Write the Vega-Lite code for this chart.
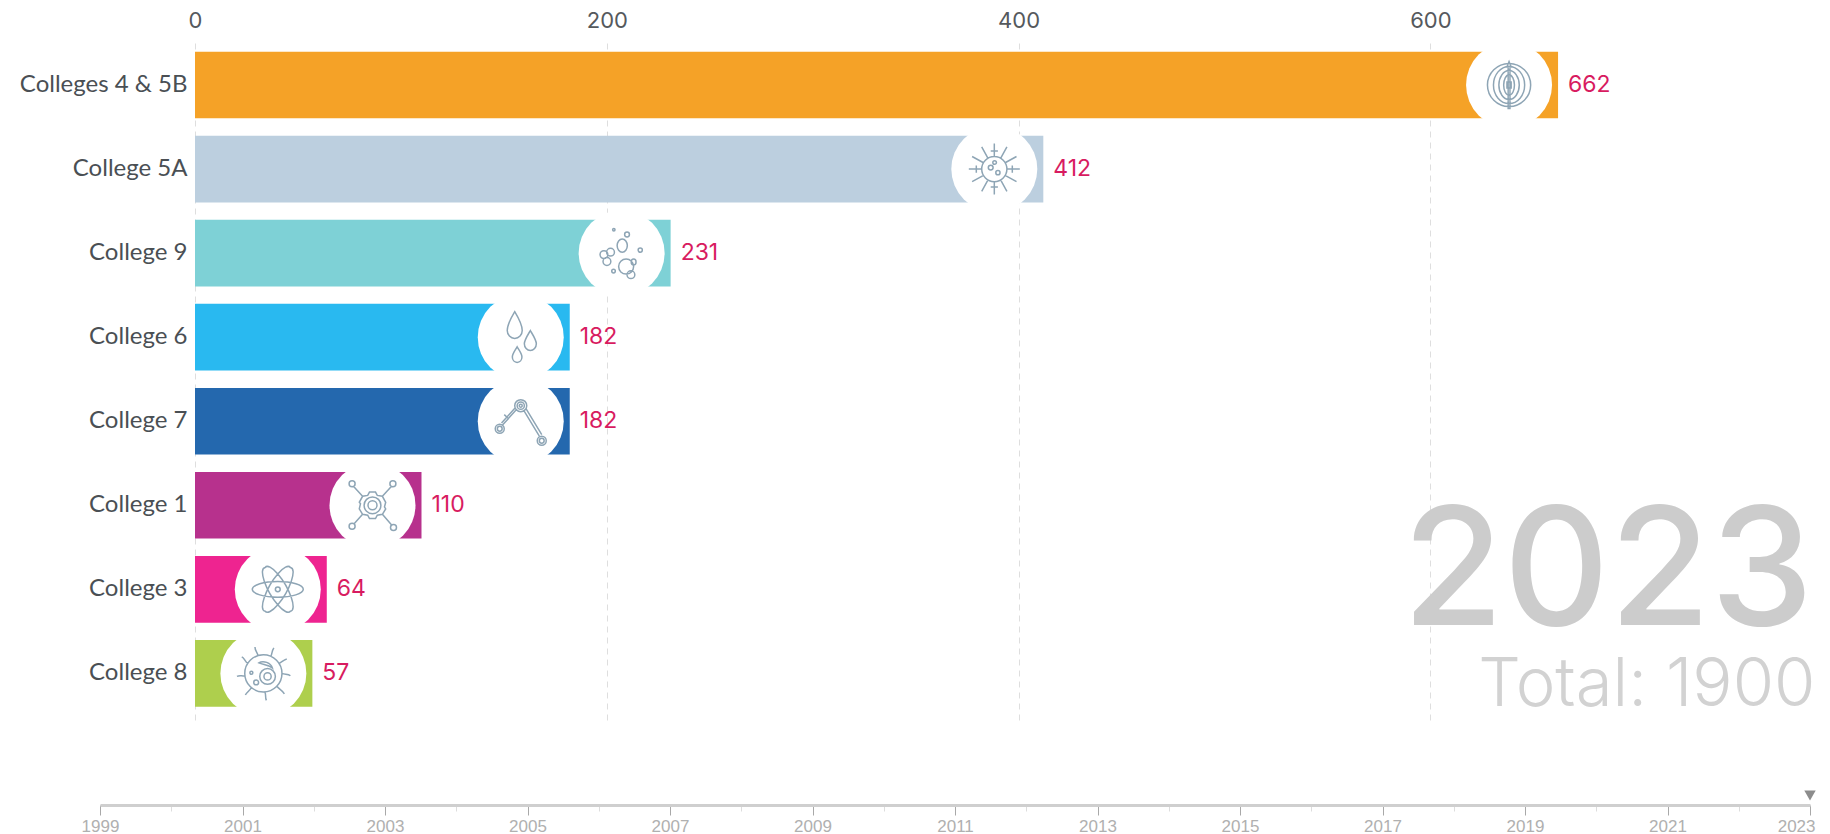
{
  "$schema": "https://vega.github.io/schema/vega-lite/v6.json",
  "padding": {"left": 19, "top": 9, "right": 5, "bottom": 0},
  "background": "white",
  "config": {"view": {"stroke": null}},
  "datasets": {
    "colleges": [
      {"college": "Colleges 4 & 5B", "count": 662},
      {"college": "College 5A", "count": 412},
      {"college": "College 9", "count": 231},
      {"college": "College 6", "count": 182},
      {"college": "College 7", "count": 182},
      {"college": "College 1", "count": 110},
      {"college": "College 3", "count": 64},
      {"college": "College 8", "count": 57}
    ],
    "yearLabel": [{"college": "College 3", "label": "2023", "count": 786}],
    "totalLabel": [{"college": "College 8", "label": "Total: 1900", "count": 787}],
    "current": [{"year": 2023}]
  },
  "vconcat": [
    {
      "width": 1710,
      "height": 680,
      "data": {"name": "colleges"},
      "encoding": {
        "y": {
          "field": "college",
          "type": "nominal",
          "sort": null,
          "scale": {
            "domain": ["Colleges 4 & 5B", "College 5A", "College 9", "College 6", "College 7", "College 1", "College 3", "College 8"],
            "paddingInner": 0.207,
            "paddingOuter": 0.1485,
            "align": 0.348
          },
          "axis": {
            "title": null,
            "orient": "left",
            "offset": -95,
            "domain": false,
            "ticks": false,
            "labelPadding": 8,
            "labelFont": "Lato",
            "labelFontSize": 24,
            "labelColor": "#4a4f54",
            "labelLimit": 300
          }
        },
        "x": {
          "field": "count",
          "type": "quantitative",
          "scale": {"domain": [-46.14, 784.36], "nice": false, "zero": false},
          "axis": {
            "title": null,
            "orient": "top",
            "values": [0, 200, 400, 600],
            "format": "d",
            "domain": false,
            "ticks": false,
            "labelPadding": 11,
            "labelFont": "Inter",
            "labelFontSize": 22,
            "labelColor": "#55595d",
            "grid": true,
            "gridColor": "#dedede",
            "gridDash": [6, 5],
            "gridWidth": 1
          }
        }
      },
      "layer": [
        {
          "mark": {"type": "bar"},
          "encoding": {
            "x2": {"datum": 0},
            "color": {
              "field": "college",
              "type": "nominal",
              "legend": null,
              "scale": {
                "domain": ["Colleges 4 & 5B", "College 5A", "College 9", "College 6", "College 7", "College 1", "College 3", "College 8"],
                "range": ["#F5A227", "#BCCFDF", "#7ED1D6", "#29B9F0", "#2468AE", "#B7318D", "#EE2490", "#AECF4D"]
              }
            }
          }
        },
        {
          "mark": {"type": "point", "shape": "circle", "filled": true, "fill": "white", "stroke": null, "size": 7396, "xOffset": -49, "opacity": 1}
        },
        {
          "mark": {"type": "point", "filled": false, "stroke": "#8ea5b5", "strokeWidth": 1.5, "size": 3600, "xOffset": -49, "opacity": 1},
          "encoding": {
            "shape": {
              "field": "college",
              "type": "nominal",
              "legend": null,
              "scale": {
                "domain": ["Colleges 4 & 5B", "College 5A", "College 9", "College 6", "College 7", "College 1", "College 3", "College 8"],
                "range": [
                  "M-.07 -.6L0 -.78L.07 -.6L.03 -.6L.03 .78L-.03 .78L-.03 -.6ZM-.07 -.1h.14v.2h-.14ZM-.18 0a.18 .34 0 1 0 .36 0a.18 .34 0 1 0 -.36 0ZM-.34 0a.34 .48 0 1 0 .68 0a.34 .48 0 1 0 -.68 0ZM-.52 0a.52 .62 0 1 0 1.04 0a.52 .62 0 1 0 -1.04 0ZM-.72 0a.72 .72 0 1 0 1.44 0a.72 .72 0 1 0 -1.44 0Z",
                  "M-.42 0a.42 .42 0 1 0 .84 0a.42 .42 0 1 0 -.84 0ZM-.2 -.05a.08 .08 0 1 0 .16 0a.08 .08 0 1 0 -.16 0ZM.05 .12a.07 .07 0 1 0 .14 0a.07 .07 0 1 0 -.14 0ZM-.05 -.22a.06 .06 0 1 0 .12 0a.06 .06 0 1 0 -.12 0ZM.42 0L.85 0M.36 .21L.74 .42M.21 .36L.42 .74M0 .42L0 .85M-.21 .36L-.42 .74M-.36 .21L-.74 .42M-.42 0L-.85 0M-.36 -.21L-.74 -.42M-.21 -.36L-.42 -.74M0 -.42L0 -.85M.21 -.36L.42 -.74M.36 -.21L.74 -.42M.6 -.12L.6 .12M-.6 -.12L-.6 .12M-.12 .6L.12 .6M-.12 -.6L.12 -.6",
                  "M-.15 -.25a.17 .22 0 1 0 .34 0a.17 .22 0 1 0 -.34 0ZM-.1 .45a.25 .25 0 1 0 .5 0a.25 .25 0 1 0 -.5 0ZM-.72 .05a.13 .13 0 1 0 .26 0a.13 .13 0 1 0 -.26 0ZM-.62 .28a.13 .13 0 1 0 .26 0a.13 .13 0 1 0 -.26 0ZM-.5 -.03a.13 .13 0 1 0 .26 0a.13 .13 0 1 0 -.26 0ZM.32 .3a.08 .1 0 1 0 .16 0a.08 .1 0 1 0 -.16 0ZM.18 .72a.13 .13 0 1 0 .26 0a.13 .13 0 1 0 -.26 0ZM.1 -.62a.08 .08 0 1 0 .16 0a.08 .08 0 1 0 -.16 0ZM.55 -.1a.07 .07 0 1 0 .14 0a.07 .07 0 1 0 -.14 0ZM-.33 .6a.06 .06 0 1 0 .12 0a.06 .06 0 1 0 -.12 0ZM-.3 -.78a.04 .04 0 1 0 .08 0a.04 .04 0 1 0 -.08 0Z",
                  "M-.2 -.85C-.05 -.6 .05 -.4 .05 -.22C.05 -.08 -.06 .04 -.2 .04C-.34 .04 -.45 -.08 -.45 -.22C-.45 -.4 -.35 -.6 -.2 -.85ZM.32 -.22C.42 -.05 .52 .1 .52 .22C.52 .34 .43 .44 .32 .44C.21 .44 .12 .34 .12 .22C.12 .1 .22 -.05 .32 -.22ZM-.12 .32C-.05 .45 .04 .55 .04 .66C.04 .76 -.03 .84 -.12 .84C-.21 .84 -.28 .76 -.28 .66C-.28 .55 -.19 .45 -.12 .32Z",
                  "M-.2 -.52a.2 .2 0 1 0 .4 0a.2 .2 0 1 0 -.4 0ZM-.12 -.52a.12 .12 0 1 0 .24 0a.12 .12 0 1 0 -.24 0ZM-.05 -.52a.05 .05 0 1 0 .1 0a.05 .05 0 1 0 -.1 0ZM-.85 .25a.15 .15 0 1 0 .3 0a.15 .15 0 1 0 -.3 0ZM-.78 .25a.08 .08 0 1 0 .16 0a.08 .08 0 1 0 -.16 0ZM.55 .65a.15 .15 0 1 0 .3 0a.15 .15 0 1 0 -.3 0ZM.62 .65a.08 .08 0 1 0 .16 0a.08 .08 0 1 0 -.16 0ZM-.6 .12L-.15 -.38M-.64 .06L-.19 -.44M.1 -.36L.62 .5M.18 -.41L.7 .45M-.55 -.22L-.42 -.1",
                  "M-.15 0a.15 .15 0 1 0 .3 0a.15 .15 0 1 0 -.3 0ZM-.28 0a.28 .28 0 1 0 .56 0a.28 .28 0 1 0 -.56 0ZM-.1 -.44L.1 -.44L.16 -.33L.33 -.3L.44 -.1L.4 .05L.44 .12L.33 .3L.16 .33L.1 .44L-.1 .44L-.16 .33L-.33 .3L-.44 .12L-.4 -.05L-.44 -.1L-.33 -.3L-.16 -.33ZM-.33 -.3L-.62 -.62M.33 -.3L.62 -.62M-.33 .3L-.62 .62M.33 .3L.66 .68M-.78 -.72a.1 .1 0 1 0 .2 0a.1 .1 0 1 0 -.2 0ZM.58 -.72a.1 .1 0 1 0 .2 0a.1 .1 0 1 0 -.2 0ZM-.78 .7a.1 .1 0 1 0 .2 0a.1 .1 0 1 0 -.2 0ZM.6 .74a.1 .1 0 1 0 .2 0a.1 .1 0 1 0 -.2 0Z",
                  "M-.85 0a.85 .26 0 1 0 1.7 0a.85 .26 0 1 0 -1.7 0ZM-.42 -.73a.85 .26 60 1 0 .84 1.46a.85 .26 60 1 0 -.84 -1.46ZM.42 -.73a.85 .26 120 1 0 -.84 1.46a.85 .26 120 1 0 .84 -1.46ZM-.08 0a.08 .08 0 1 0 .16 0a.08 .08 0 1 0 -.16 0Z",
                  "M-.62 0a.62 .62 0 1 0 1.24 0a.62 .62 0 1 0 -1.24 0ZM-.12 .1a.26 .26 0 1 0 .52 0a.26 .26 0 1 0 -.52 0ZM.02 .1a.12 .12 0 1 0 .24 0a.12 .12 0 1 0 -.24 0ZM-.32 .3a.08 .08 0 1 0 .16 0a.08 .08 0 1 0 -.16 0ZM-.45 -.02a.05 .05 0 1 0 .1 0a.05 .05 0 1 0 -.1 0ZM-.15 -.35C0 -.45 .25 -.35 .3 -.18C.15 -.3 0 -.28 -.15 -.35ZM.62 0C.72 .05 .82 0 .9 .08M.45 .43C.55 .55 .62 .55 .7 .68M.05 .62C.1 .72 .05 .8 .1 .9M-.4 .47C-.45 .58 -.55 .62 -.6 .72M-.62 .08C-.72 .1 -.78 .05 -.88 .1M-.52 -.33C-.62 -.4 -.62 -.5 -.72 -.55M-.18 -.6C-.2 -.7 -.28 -.75 -.28 -.88M.25 -.57C.3 -.68 .28 -.75 .35 -.85M.52 -.33C.62 -.38 .68 -.45 .78 -.48"
                ]
              }
            }
          }
        },
        {
          "mark": {"type": "text", "align": "left", "baseline": "middle", "dx": 10, "font": "Inter", "fontSize": 23, "color": "#d81b60"},
          "encoding": {"text": {"field": "count", "type": "quantitative", "format": "d"}}
        },
        {
          "data": {"name": "yearLabel"},
          "mark": {"type": "text", "align": "right", "baseline": "alphabetic", "dy": 36, "font": "Inter", "fontWeight": 500, "fontSize": 164, "color": "#cccccc"},
          "encoding": {"text": {"field": "label", "type": "nominal"}}
        },
        {
          "data": {"name": "totalLabel"},
          "mark": {"type": "text", "align": "right", "baseline": "alphabetic", "dy": 33, "font": "Inter", "fontWeight": 300, "fontSize": 67, "color": "#d2d2d2"},
          "encoding": {"text": {"field": "label", "type": "nominal"}}
        }
      ]
    },
    {
      "width": 1710,
      "height": 1,
      "data": {"name": "current"},
      "encoding": {
        "x": {
          "field": "year",
          "type": "quantitative",
          "scale": {"domain": [1999, 2023], "nice": false, "zero": false},
          "axis": {
            "title": null,
            "orient": "bottom",
            "values": [1999, 2000, 2001, 2002, 2003, 2004, 2005, 2006, 2007, 2008, 2009, 2010, 2011, 2012, 2013, 2014, 2015, 2016, 2017, 2018, 2019, 2020, 2021, 2022, 2023],
            "format": "d",
            "labelExpr": "datum.value % 2 == 1 ? datum.label : ''",
            "labelOverlap": false,
            "labelFlush": false,
            "labelBound": false,
            "labelAlign": {"condition": {"test": "datum.value == 2023", "value": "right"}, "value": "center"},
            "labelOffset": {"condition": {"test": "datum.value == 2023", "value": 5}, "value": 0},
            "labelFont": "Liberation Sans",
            "labelFontSize": 17,
            "labelColor": "#b0b0b0",
            "labelPadding": 3,
            "domainColor": "#cfcfcf",
            "domainWidth": 3,
            "tickColor": {"condition": {"test": "datum.value % 2 == 1", "value": "#a8a8a8"}, "value": "#dddddd"},
            "tickSize": {"condition": {"test": "datum.value % 2 == 1", "value": 10}, "value": 6},
            "grid": false
          }
        }
      },
      "layer": [
        {
          "mark": {"type": "point", "shape": "triangle-down", "filled": true, "color": "#8c8c8c", "size": 130, "yOffset": -9, "opacity": 1}
        }
      ]
    }
  ],
  "spacing": 67
}
